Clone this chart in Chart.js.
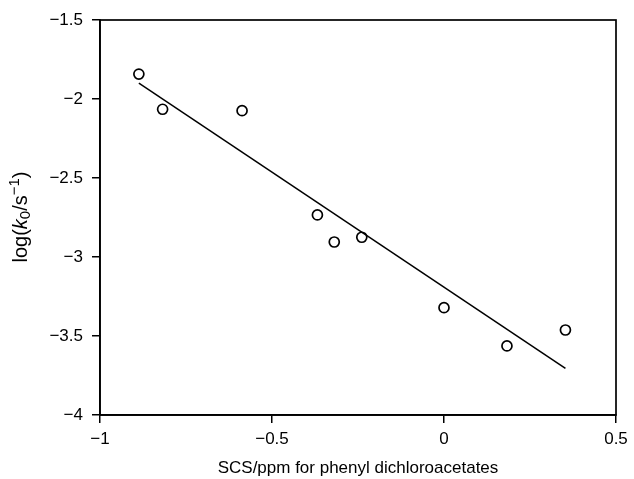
<!DOCTYPE html>
<html>
<head>
<meta charset="utf-8">
<script src="https://cdn.jsdelivr.net/npm/chart.js@4/dist/chart.umd.min.js"></script>
<style>
  html, body { margin: 0; padding: 0; background: #fff; }
  #wrap { width: 634px; height: 479px; }
</style>
</head>
<body>
<div id="wrap"><canvas id="chart"></canvas></div>
<script>
// measured points (SCS shift vs log k0)
const scsX = [-0.887, -0.818, -0.587, -0.368, -0.319, -0.239, 0.0, 0.183, 0.353];
const logK = [-1.842, -2.065, -2.074, -2.734, -2.905, -2.875, -3.321, -3.563, -3.462];

// regression line end points
const fitX = [-0.887, 0.353];
const fitY = [-1.90, -3.705];

const xTicks = [-1, -0.5, 0, 0.5];
const yTicks = [-1.5, -2, -2.5, -3, -3.5, -4];

const FONT = "'Liberation Sans', Arial, sans-serif";
const minus = v => String(v).replace('-', '\u2212');

// frame round the plot + rich y title
const framePlugin = {
  id: 'frame',
  afterDraw(chart) {
    const { ctx, chartArea: a } = chart;
    ctx.save();
    ctx.strokeStyle = '#000';
    ctx.lineWidth = 1.7;
    ctx.strokeRect(a.left, a.top, a.right - a.left, a.bottom - a.top);

    // y axis title: log(k0/s−1)
    ctx.translate(21, 217);
    ctx.rotate(-Math.PI / 2);
    ctx.fillStyle = '#000';
    ctx.textBaseline = 'middle';
    const parts = [
      { t: 'log(', f: '20px ' + FONT, dy: 0 },
      { t: 'k', f: 'italic 20px ' + FONT, dy: 0 },
      { t: '0', f: '15px ' + FONT, dy: 5 },
      { t: '/s', f: '20px ' + FONT, dy: 0 },
      { t: '\u22121', f: '15px ' + FONT, dy: -6 },
      { t: ')', f: '20px ' + FONT, dy: 0 }
    ];
    let w = 0;
    parts.forEach(p => { ctx.font = p.f; w += ctx.measureText(p.t).width; });
    let x = -w / 2;
    parts.forEach(p => {
      ctx.font = p.f;
      ctx.fillText(p.t, x, p.dy);
      x += ctx.measureText(p.t).width;
    });
    ctx.restore();
  }
};

new Chart(document.getElementById('chart'), {
  type: 'scatter',
  data: {
    datasets: [
      {
        label: 'data',
        data: scsX.map((x, i) => ({ x, y: logK[i] })),
        pointStyle: 'circle',
        pointRadius: 5,
        pointBorderWidth: 1.7,
        pointBorderColor: '#000',
        pointBackgroundColor: 'rgba(0,0,0,0)',
        showLine: false
      },
      {
        label: 'fit',
        data: fitX.map((x, i) => ({ x, y: fitY[i] })),
        showLine: true,
        borderColor: '#000',
        borderWidth: 1.5,
        pointRadius: 0
      }
    ]
  },
  options: {
    responsive: true,
    maintainAspectRatio: false,
    animation: false,
    layout: { padding: { top: 20, right: 18, left: 0, bottom: 0 } },
    plugins: {
      legend: { display: false },
      tooltip: { enabled: false }
    },
    scales: {
      x: {
        type: 'linear',
        min: -1,
        max: 0.5,
        afterBuildTicks: s => { s.ticks = xTicks.map(v => ({ value: v })); },
        afterFit: s => { s.height = 64; },
        grid: { display: true, drawOnChartArea: false, drawTicks: true, tickLength: 8, color: '#000', lineWidth: 1.5 },
        border: { display: true, color: '#000', width: 1.7 },
        ticks: {
          color: '#000',
          font: { family: FONT, size: 17 },
          padding: 6,
          maxRotation: 0,
          callback: v => minus(v)
        },
        title: {
          display: true,
          text: 'SCS/ppm for phenyl dichloroacetates',
          color: '#000',
          font: { family: FONT, size: 17 },
          padding: { top: 2, bottom: 0 }
        }
      },
      y: {
        type: 'linear',
        min: -4,
        max: -1.5,
        afterBuildTicks: s => { s.ticks = yTicks.map(v => ({ value: v })); },
        afterFit: s => { s.width = 100; },
        grid: { display: true, drawOnChartArea: false, drawTicks: true, tickLength: 8, color: '#000', lineWidth: 1.5 },
        border: { display: true, color: '#000', width: 1.7 },
        ticks: {
          color: '#000',
          font: { family: FONT, size: 17 },
          padding: 9,
          callback: v => minus(v)
        }
      }
    }
  },
  plugins: [framePlugin]
});
</script>
</body>
</html>
